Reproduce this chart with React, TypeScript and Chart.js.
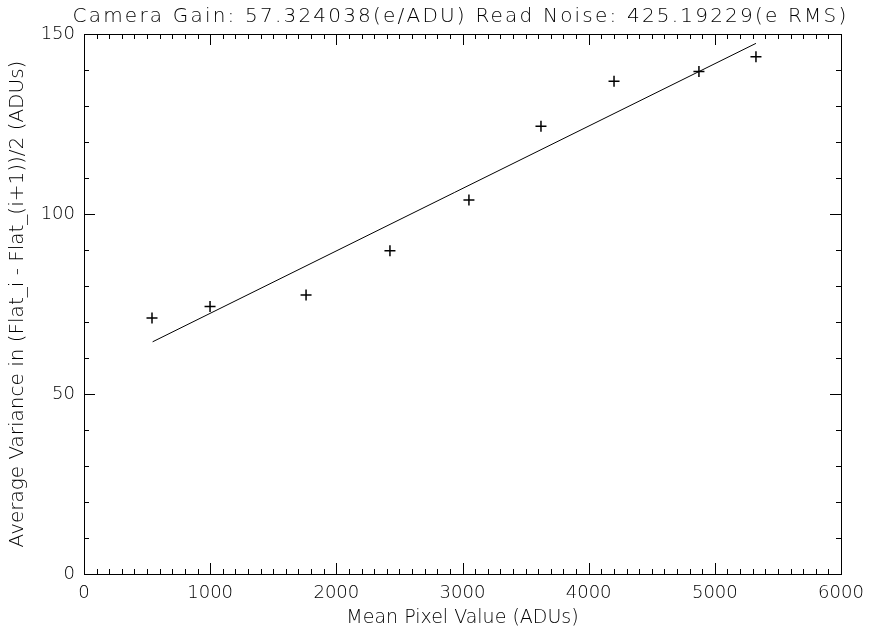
import React, { useEffect, useRef } from "react";
import { Chart, registerables } from "chart.js";

Chart.register(...registerables);

const meanPixel = [539, 999, 1760, 2425, 3051, 3622, 4201, 4874, 5326];
const variance = [71.1, 74.3, 77.5, 89.8, 103.9, 124.4, 136.9, 139.6, 143.7];
const fitX = [544, 5326];
const fitY = [64.5, 147.4];

const titleText = "Camera Gain: 57.324038(e/ADU) Read Noise: 425.19229(e RMS)";
const xTitle = "Mean Pixel Value (ADUs)";
const yTitle = "Average Variance in (Flat_i - Flat_(i+1))/2 (ADUs)";

const FONT = "DejaVu Sans";
const WEIGHT = "200";

const boxTicks = {
  id: "boxTicks",
  afterDraw(chart: any) {
    const { ctx, chartArea: a, scales } = chart;
    const xs = scales.x;
    const ys = scales.y;
    ctx.save();
    ctx.strokeStyle = "#000";
    ctx.lineWidth = 1;
    ctx.strokeRect(a.left + 0.5, a.top + 0.5, a.right - a.left, a.bottom - a.top);
    ctx.beginPath();
    for (let v = 0; v <= 6000; v += 100) {
      const px = Math.round(xs.getPixelForValue(v)) + 0.5;
      const len = v % 1000 === 0 ? 11 : 5;
      ctx.moveTo(px, a.bottom);
      ctx.lineTo(px, a.bottom - len);
      ctx.moveTo(px, a.top);
      ctx.lineTo(px, a.top + len);
    }
    for (let v = 0; v <= 150; v += 10) {
      const py = Math.round(ys.getPixelForValue(v)) + 0.5;
      const len = v % 50 === 0 ? 11 : 5;
      ctx.moveTo(a.left, py);
      ctx.lineTo(a.left + len, py);
      ctx.moveTo(a.right, py);
      ctx.lineTo(a.right - len, py);
    }
    ctx.stroke();
    // main title, centred over the plot area
    ctx.fillStyle = "#000";
    ctx.font = `${WEIGHT} 20px "${FONT}"`;
    (ctx as any).letterSpacing = "2.2px";
    ctx.textAlign = "center";
    ctx.textBaseline = "alphabetic";
    ctx.fillText(titleText, (a.left + a.right) / 2 - 2, 22);
    (ctx as any).letterSpacing = "0px";
    ctx.restore();
  },
};

export default function App() {
  const ref = useRef<HTMLCanvasElement | null>(null);
  useEffect(() => {
    if (!ref.current) return;
    const chart = new Chart(ref.current, {
      type: "scatter",
      data: {
        datasets: [
          {
            data: meanPixel.map((x, i) => ({ x, y: variance[i] })),
            pointStyle: "cross",
            pointRadius: 5.5,
            pointBorderWidth: 1.5,
            borderColor: "#000",
            backgroundColor: "#000",
            showLine: false,
          },
          {
            data: fitX.map((x, i) => ({ x, y: fitY[i] })),
            showLine: true,
            pointRadius: 0,
            borderColor: "#000",
            borderWidth: 1,
          },
        ],
      },
      plugins: [boxTicks],
      options: {
        responsive: false,
        animation: false,
        layout: { padding: { left: 0, right: 28, top: 34, bottom: 0 } },
        plugins: {
          legend: { display: false },
          tooltip: { enabled: false },
          title: { display: false },
        },
        scales: {
          x: {
            type: "linear",
            min: 0,
            max: 6000,
            grid: { display: false, drawTicks: false },
            border: { display: false },
            ticks: {
              stepSize: 1000,
              color: "#000",
              padding: 9,
              maxRotation: 0,
              font: { family: FONT, size: 18, weight: WEIGHT },
              callback: (v: any) => String(v),
            },
            title: {
              display: true,
              text: xTitle,
              color: "#000",
              font: { family: FONT, size: 19, weight: WEIGHT },
              padding: { top: 0, bottom: 3 },
            },
            afterFit(scale: any) {
              scale.height = 58;
              scale.paddingLeft = 0;
              scale.paddingRight = 0;
            },
          },
          y: {
            type: "linear",
            min: 0,
            max: 150,
            grid: { display: false, drawTicks: false },
            border: { display: false },
            ticks: {
              stepSize: 50,
              color: "#000",
              padding: 9,
              font: { family: FONT, size: 18, weight: WEIGHT },
              callback: (v: any) => String(v),
            },
            title: {
              display: true,
              text: yTitle,
              color: "#000",
              font: { family: FONT, size: 20, weight: WEIGHT },
              padding: { top: 6, bottom: 0 },
            },
            afterFit(scale: any) {
              scale.width = 84;
              scale.paddingTop = 0;
              scale.paddingBottom = 0;
            },
          },
        },
      } as any,
    });
    return () => chart.destroy();
  }, []);
  return (
    <div style={{ position: "absolute", left: 0, top: 0, width: 869, height: 632, background: "#fff" }}>
      <canvas ref={ref} width={869} height={632} style={{ display: "block" }} />
    </div>
  );
}
